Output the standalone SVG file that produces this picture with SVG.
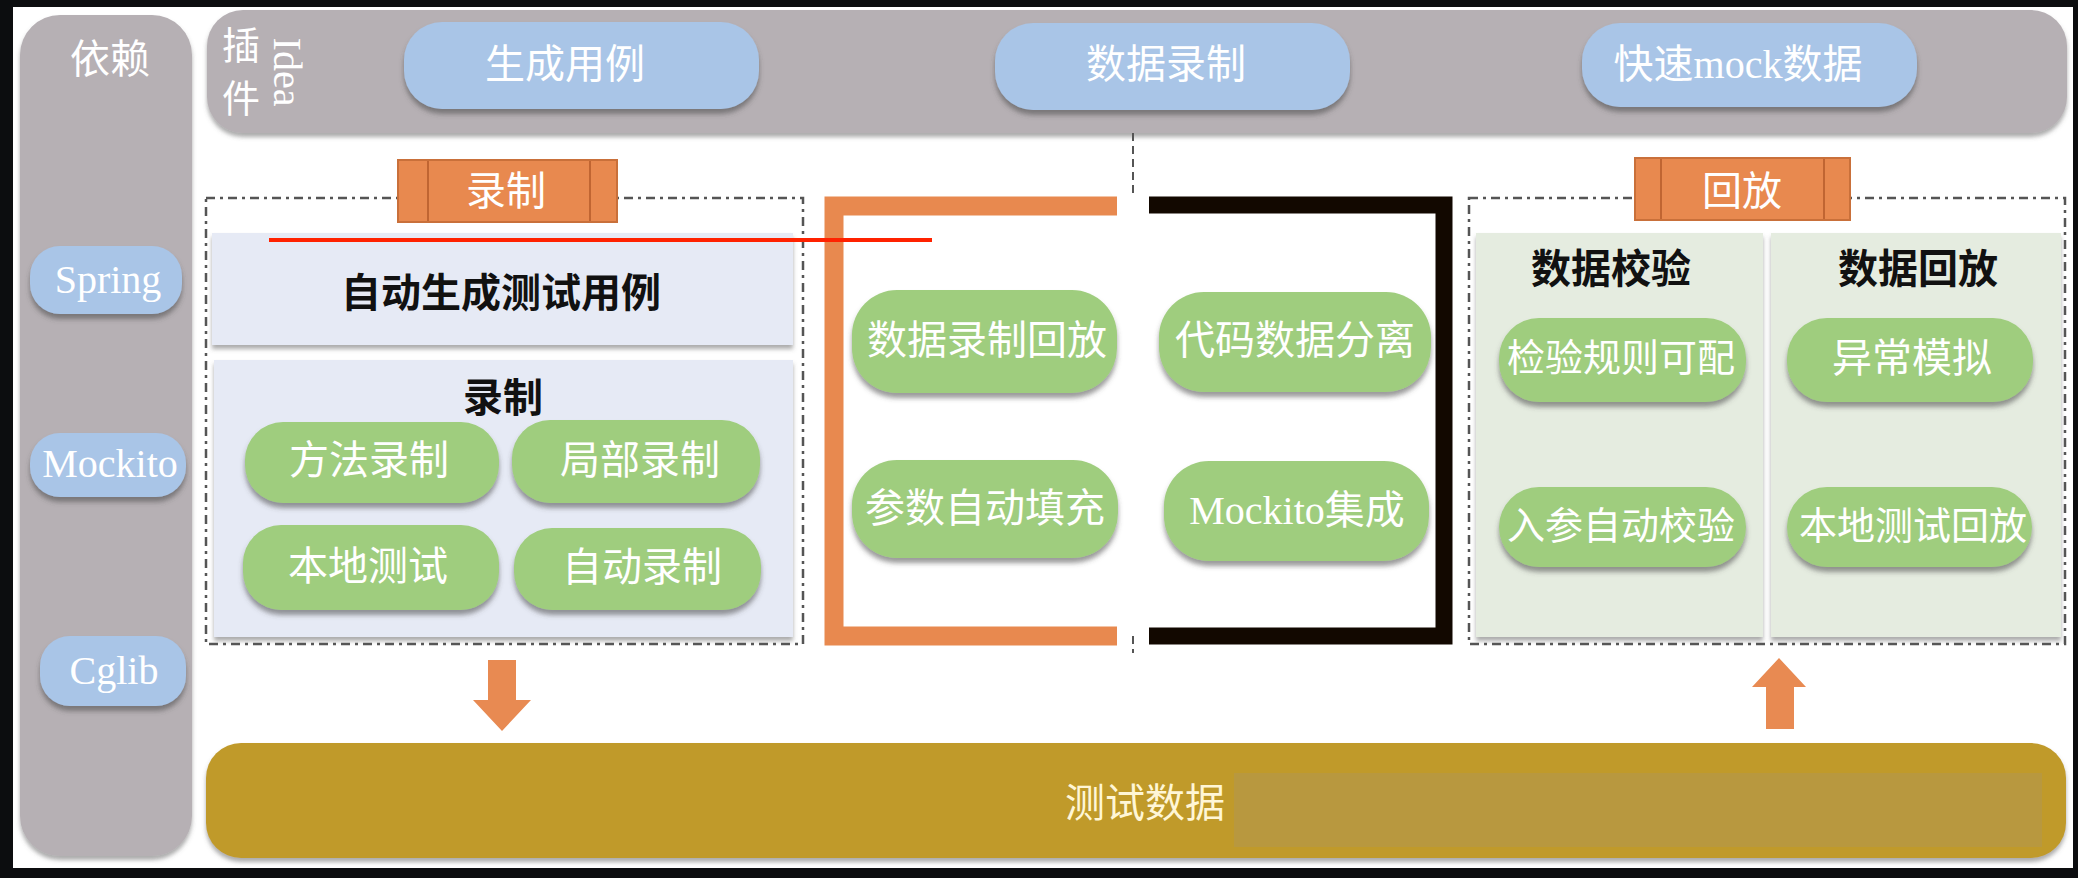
<svg xmlns="http://www.w3.org/2000/svg" width="2078" height="878" viewBox="0 0 2078 878">
<defs>
<filter id="sh" x="-10%" y="-20%" width="120%" height="150%">
<feDropShadow dx="0" dy="5" stdDeviation="2.5" flood-color="#4a4a4a" flood-opacity="0.55"/>
</filter>
<filter id="sh2" x="-5%" y="-10%" width="110%" height="130%">
<feDropShadow dx="0" dy="4" stdDeviation="2" flood-color="#5a5a5a" flood-opacity="0.5"/>
</filter>
<style>
.t{font-family:'Liberation Serif','Noto Sans CJK SC',serif;text-anchor:middle;dominant-baseline:central}
.w{fill:#ffffff;font-size:40px}
.b{fill:#111111;font-size:40px;font-weight:700;font-family:'Noto Sans CJK SC','Liberation Serif',sans-serif}
.grey{fill:#b6b0b4}
.blue{fill:#a9c5e7;filter:url(#sh)}
.green{fill:#9fcd7e;filter:url(#sh)}
.tab{fill:#e8894f;stroke:#c9703a;stroke-width:2}
.tabl{stroke:#c06532;stroke-width:2}
.dash{fill:none;stroke:#555555;stroke-width:2.5;stroke-dasharray:9 5 3 5}
.arrow{fill:#e88a52}
</style>
</defs>
<rect x="0" y="0" width="2078" height="878" fill="#0c0d0f"/>
<rect x="13" y="7" width="2060" height="861" fill="#ffffff"/>

<g id="dependency-column">
<rect class="grey" x="20" y="15" width="172" height="841" rx="40" filter="url(#sh2)"/>
<text class="t w" x="110" y="59">依赖</text>
<g id="dep-spring"><rect class="blue" x="30" y="246" width="152" height="68" rx="30"/><text class="t w" x="108" y="279">Spring</text></g>
<g id="dep-mockito"><rect class="blue" x="30" y="433" width="156" height="64" rx="30"/><text class="t w" x="110" y="463">Mockito</text></g>
<g id="dep-cglib"><rect class="blue" x="40" y="636" width="146" height="70" rx="30"/><text class="t w" x="114" y="670">Cglib</text></g>
</g>

<g id="idea-plugin-bar">
<rect class="grey" x="207" y="10" width="1860" height="123" rx="36" filter="url(#sh2)"/>
<text class="t w" x="241" y="46" style="font-size:38px">插</text>
<text class="t w" x="241" y="99" style="font-size:38px">件</text>
<text class="t w" x="0" y="0" transform="translate(287,72) rotate(90)">Idea</text>
<g id="plugin-gen"><rect class="blue" x="404" y="22" width="355" height="87" rx="38"/><text class="t w" x="565" y="64">生成用例</text></g>
<g id="plugin-record"><rect class="blue" x="995" y="23" width="355" height="87" rx="38"/><text class="t w" x="1166" y="64">数据录制</text></g>
<g id="plugin-mock"><rect class="blue" x="1582" y="23" width="335" height="84" rx="38"/><text class="t w" x="1738" y="64">快速mock数据</text></g>
</g>

<g id="record-section">
<rect class="dash" x="206" y="198" width="597" height="446"/>
<g id="auto-gen">
<rect x="212" y="233" width="581" height="112" fill="#e6eaf5" filter="url(#sh2)"/>
<text class="t b" x="501" y="290">自动生成测试用例</text>
</g>
<g id="record-box">
<rect x="214" y="360" width="579" height="277" fill="#e6eaf5" filter="url(#sh2)"/>
<text class="t b" x="503" y="395">录制</text>
<g id="rec-method"><rect class="green" x="245" y="422" width="254" height="81" rx="38"/><text class="t w" x="369" y="460">方法录制</text></g>
<g id="rec-partial"><rect class="green" x="512" y="420" width="248" height="83" rx="38"/><text class="t w" x="640" y="460">局部录制</text></g>
<g id="rec-local"><rect class="green" x="243" y="525" width="256" height="85" rx="38"/><text class="t w" x="368" y="566">本地测试</text></g>
<g id="rec-auto"><rect class="green" x="514" y="528" width="247" height="82" rx="38"/><text class="t w" x="642" y="567">自动录制</text></g>
</g>
<g id="tab-record">
<rect class="tab" x="398" y="160" width="219" height="62"/>
<line class="tabl" x1="428" y1="161" x2="428" y2="221"/>
<line class="tabl" x1="590" y1="161" x2="590" y2="221"/>
<text class="t w" x="506" y="191">录制</text>
</g>
</g>

<g id="core-features">
<path d="M1117,206 H834 V636 H1117" fill="none" stroke="#e8894f" stroke-width="19"/>
<path d="M1149,205 H1444 V636 H1149" fill="none" stroke="#120800" stroke-width="17"/>
<g id="feat-record-replay"><rect class="green" x="852" y="290" width="265" height="103" rx="45"/><text class="t w" x="987" y="340">数据录制回放</text></g>
<g id="feat-separate"><rect class="green" x="1159" y="292" width="272" height="100" rx="45"/><text class="t w" x="1295" y="340">代码数据分离</text></g>
<g id="feat-autofill"><rect class="green" x="852" y="460" width="266" height="98" rx="45"/><text class="t w" x="985" y="508">参数自动填充</text></g>
<g id="feat-mockito"><rect class="green" x="1164" y="461" width="265" height="100" rx="45"/><text class="t w" x="1297" y="510">Mockito集成</text></g>
</g>

<g id="replay-section">
<rect class="dash" x="1469" y="198" width="596" height="446"/>
<g id="verify-panel">
<rect x="1476" y="233" width="287" height="404" fill="#e5ece0" filter="url(#sh2)"/>
<text class="t b" x="1611" y="266">数据校验</text>
<g id="verify-rules"><rect class="green" x="1499" y="318" width="247" height="84" rx="40"/><text class="t w" x="1621" y="358" style="font-size:38px">检验规则可配</text></g>
<g id="verify-auto"><rect class="green" x="1499" y="487" width="247" height="80" rx="40"/><text class="t w" x="1621" y="526" style="font-size:38px">入参自动校验</text></g>
</g>
<g id="replay-panel">
<rect x="1771" y="233" width="290" height="404" fill="#e5ece0" filter="url(#sh2)"/>
<text class="t b" x="1918" y="266">数据回放</text>
<g id="replay-exception"><rect class="green" x="1787" y="318" width="246" height="84" rx="40"/><text class="t w" x="1912" y="358">异常模拟</text></g>
<g id="replay-local"><rect class="green" x="1787" y="487" width="245" height="80" rx="40"/><text class="t w" x="1913" y="526" style="font-size:38px">本地测试回放</text></g>
</g>
<g id="tab-replay">
<rect class="tab" x="1635" y="158" width="215" height="62"/>
<line class="tabl" x1="1661" y1="159" x2="1661" y2="219"/>
<line class="tabl" x1="1824" y1="159" x2="1824" y2="219"/>
<text class="t w" x="1742" y="191">回放</text>
</g>
</g>

<g id="test-data">
<rect x="206" y="743" width="1860" height="115" rx="35" fill="#c09a2c" filter="url(#sh2)"/>
<rect x="1234" y="773" width="808" height="74" fill="#b8983f"/>
<text class="t" x="1145" y="803" style="font-size:40px;fill:#fff6d6">测试数据</text>
</g>

<g id="connectors">
<line x1="1133" y1="133" x2="1133" y2="196" stroke="#555555" stroke-width="2" stroke-dasharray="8 5"/>
<line x1="1133" y1="636" x2="1133" y2="653" stroke="#555555" stroke-width="2" stroke-dasharray="8 5"/>
<polygon class="arrow" points="488,660 516,660 516,700 531,700 502,731 473,700 488,700"/>
<polygon class="arrow" points="1779,658 1806,687 1794,687 1794,729 1766,729 1766,687 1752,687"/>
<line x1="269" y1="240" x2="932" y2="240" stroke="#ff2200" stroke-width="4"/>
</g>
</svg>
